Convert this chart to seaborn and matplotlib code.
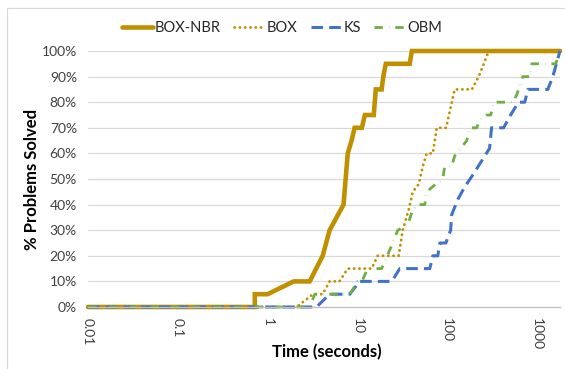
import matplotlib
matplotlib.use("Agg")
import matplotlib.pyplot as plt
from matplotlib.patches import Rectangle
import seaborn as sns
import pandas as pd

# ---- data (time in seconds, % problems solved) ----
nbr_t = [0.01, 0.72, 0.72, 1.0, 1.95, 2.94, 4.1, 4.9, 7.0, 7.8, 8.6, 9.3, 11.2, 12.1, 15.2, 16.0, 18.6, 19.4, 20.7, 38.2, 40.3, 1800]
nbr_p = [0, 0, 5, 5, 10, 10, 20, 30, 40, 60, 65, 70, 70, 75, 75, 85, 85, 90, 95, 95, 100, 100]

box_t = [0.01, 2.1, 3.2, 4.1, 4.9, 6.3, 7.8, 14.4, 16.8, 28.8, 31.9, 37.2, 41.3, 48.2, 53.4, 59.1, 69.0, 76.4, 97, 121, 188, 224, 290]
box_p = [0, 0, 5, 5, 10, 10, 15, 15, 20, 20, 30, 38, 45, 48, 55, 60, 60, 70, 70, 85, 85, 90, 100]

ks_t = [0.01, 3.5, 4.9, 8.2, 10.6, 24.1, 29.6, 63.9, 69.0, 78.5, 82.6, 96.5, 109, 112, 131, 157, 196, 241, 296, 311, 424, 507, 622, 730, 788, 1318, 1497, 1800]
ks_p = [0, 0, 5, 5, 10, 10, 15, 15, 20, 20, 25, 25, 30, 36, 42, 47, 52, 57, 62, 70, 70, 75, 80, 80, 85, 85, 90, 100]

obm_t = [0.01, 2.94, 3.35, 8.2, 10.1, 11.2, 13.0, 18.6, 24.7, 28.1, 36.3, 40.3, 45.8, 56.2, 59.1, 74.4, 89.1, 93.8, 112, 121, 141, 165, 178, 213, 230, 275, 305, 330, 537, 595, 694, 830, 873, 1614, 1790]
obm_p = [0, 0, 5, 5, 10, 10, 15, 15, 25, 30, 32, 37, 40, 40, 45, 48, 50, 55, 55, 59, 62, 65, 70, 70, 73, 75, 75, 80, 80, 83, 90, 90, 95, 95, 100]

series_names = ["BOX-NBR", "BOX", "KS", "OBM"]
x_ticks = [0.01, 0.1, 1, 10, 100, 1000]
x_tick_labels = ["0.01", "0.1", "1", "10", "100", "1000"]
y_ticks = [0, 10, 20, 30, 40, 50, 60, 70, 80, 90, 100]
y_tick_labels = [f"{v}%" for v in y_ticks]

frames = []
for name, t, p in zip(series_names, [nbr_t, box_t, ks_t, obm_t], [nbr_p, box_p, ks_p, obm_p]):
    frames.append(pd.DataFrame({"time": t, "pct": p, "series": name}))
df = pd.concat(frames, ignore_index=True)

sns.set_theme(style="white")
plt.rcParams["font.family"] = ["Lato", "DejaVu Sans"]

W, H = 565, 369
fig = plt.figure(figsize=(W / 100, H / 100), dpi=100)
ax = fig.add_axes([88 / W, 1 - 307 / H, (560 - 88) / W, (307 - 51) / H])

styles = {
    "BOX-NBR": dict(color="#BF9000", lw=3.3, ls="-"),
    "BOX": dict(color="#BF9000", lw=2.0, ls=(0, (0.1, 1.8))),
    "KS": dict(color="#4472C4", lw=2.2, ls=(0, (3.8, 2.0))),
    "OBM": dict(color="#70AD47", lw=2.0, ls=(0, (3.0, 2.2, 0.1, 2.2))),
}

for name in series_names:
    sub = df[df["series"] == name]
    st = styles[name]
    sns.lineplot(data=sub, x="time", y="pct", ax=ax, sort=False, estimator=None,
                 color=st["color"], linewidth=st["lw"], label=name)
    line = ax.lines[-1]
    line.set_linestyle(st["ls"])
    line.set_clip_on(False)
    line.set_dash_capstyle("round" if name == "BOX" else "butt")
    line.set_solid_joinstyle("miter")

ax.set_xscale("log")
ax.set_xlim(0.01, 1800)
ax.set_ylim(0, 100)
ax.set_xticks(x_ticks)
ax.set_xticklabels(x_tick_labels, rotation=270, fontsize=10, color="#404040")
ax.minorticks_off()
ax.set_yticks(y_ticks)
ax.set_yticklabels(y_tick_labels, fontsize=10, color="#404040")

ax.grid(axis="y", color="#D9D9D9", lw=0.9)
ax.grid(axis="x", visible=False)
for s in ["left", "right", "top"]:
    ax.spines[s].set_visible(False)
ax.spines["bottom"].set_color("#BFBFBF")
ax.spines["bottom"].set_linewidth(0.9)
ax.tick_params(axis="x", direction="inout", length=6, width=0.8, color="#BFBFBF", pad=5)
ax.tick_params(axis="y", length=0, pad=8)

ax.set_xlabel("Time (seconds)", fontsize=12, fontweight="bold", color="#000000")
ax.set_ylabel("% Problems Solved", fontsize=12, fontweight="bold", color="#000000")
ax.xaxis.set_label_coords(0.507, -0.178)
ax.xaxis.label.set_va("center")
ax.yaxis.set_label_coords(-0.119, 0.5)
ax.yaxis.label.set_va("center")

leg = ax.legend(loc="center left", bbox_to_anchor=(122 / W, 1 - 28 / H), bbox_transform=fig.transFigure,
                ncol=4, frameon=False, fontsize=10.5, handlelength=2.1, handletextpad=0.15,
                columnspacing=0.9, borderaxespad=0, borderpad=0)
for lh, name in zip(leg.get_lines(), series_names):
    lh.set_linestyle(styles[name]["ls"])
    if name == "BOX":
        lh.set_dash_capstyle("round")
for txt in leg.get_texts():
    txt.set_color("#262626")

fig.patches.append(Rectangle((7 / W, -0.2), 1.5, 1.2 - 8 / H, transform=fig.transFigure,
                             fill=False, edgecolor="#D9D9D9", lw=0.9))

fig.savefig("out.png", dpi=100)
